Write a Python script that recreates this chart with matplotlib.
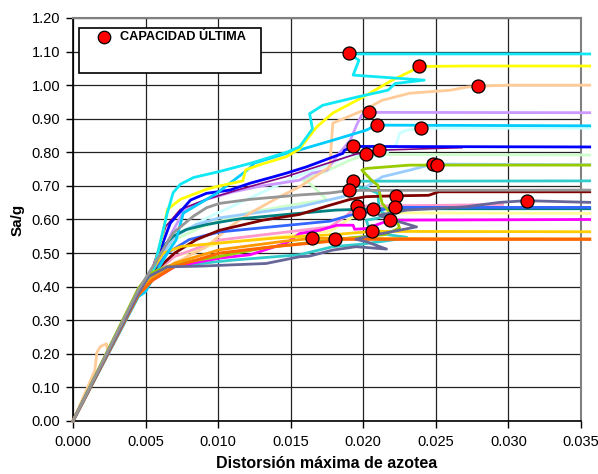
import matplotlib
matplotlib.use("Agg")
import matplotlib.pyplot as plt
from matplotlib.patches import Rectangle
from matplotlib.lines import Line2D

plt.rcParams['font.family'] = ['Liberation Sans', 'DejaVu Sans']

# ---------------- data (Sa/g vs roof drift) ----------------
cyan_x = [0, 0.0045, 0.0055, 0.0060, 0.0065, 0.0069, 0.0074, 0.0083, 0.0101, 0.0122, 0.0147, 0.0156, 0.0165, 0.0163, 0.0172, 0.0196, 0.0217, 0.0222, 0.0242, 0.0193, 0.0197, 0.0192, 0.0190, 0.0356]
cyan_y = [0, 0.385, 0.44, 0.53, 0.62, 0.68, 0.705, 0.725, 0.743, 0.767, 0.80, 0.816, 0.87, 0.915, 0.94, 0.965, 0.985, 1.005, 1.015, 1.03, 1.074, 1.089, 1.093, 1.093]

yellow_x = [0, 0.0045, 0.0056, 0.0062, 0.0065, 0.0074, 0.0092, 0.0101, 0.0117, 0.0119, 0.0128, 0.0147, 0.0156, 0.0168, 0.0179, 0.0200, 0.0220, 0.0232, 0.02386, 0.0270, 0.0356]
yellow_y = [0, 0.39, 0.46, 0.56, 0.63, 0.66, 0.69, 0.70, 0.715, 0.748, 0.762, 0.787, 0.81, 0.876, 0.917, 0.965, 1.015, 1.04, 1.0557, 1.057, 1.057]

peach_x = [0, 0.0015, 0.00165, 0.0019, 0.0023, 0.0024, 0.0045, 0.0055, 0.0070, 0.0092, 0.0108, 0.0122, 0.0142, 0.0156, 0.0177, 0.0178, 0.0179, 0.0200, 0.0213, 0.0232, 0.0260, 0.0271, 0.0279, 0.0300, 0.0356]
peach_y = [0, 0.15, 0.205, 0.222, 0.23, 0.205, 0.38, 0.44, 0.47, 0.519, 0.578, 0.619, 0.667, 0.697, 0.757, 0.826, 0.887, 0.925, 0.955, 0.976, 0.985, 0.994, 0.997, 1.0, 1.0]

lavender_x = [0, 0.0045, 0.0057, 0.0068, 0.0077, 0.0092, 0.0110, 0.0130, 0.0156, 0.0165, 0.0175, 0.01815, 0.0191, 0.0196, 0.0199, 0.02034, 0.0356]
lavender_y = [0, 0.39, 0.46, 0.56, 0.63, 0.66, 0.682, 0.70, 0.717, 0.738, 0.747, 0.787, 0.836, 0.887, 0.911, 0.919, 0.918]

dsblue_x = [0, 0.0045, 0.0050, 0.0057, 0.0065, 0.0071, 0.0076, 0.0099, 0.0120, 0.0125, 0.0147, 0.0156, 0.0179, 0.0202, 0.0209, 0.0356]
dsblue_y = [0, 0.37, 0.385, 0.44, 0.50, 0.539, 0.619, 0.678, 0.747, 0.768, 0.797, 0.807, 0.836, 0.866, 0.881, 0.879]

palecyan_x = [0, 0.0045, 0.0055, 0.0070, 0.0090, 0.0120, 0.0156, 0.0179, 0.0191, 0.0213, 0.0223, 0.0225, 0.0230, 0.02396, 0.0356]
palecyan_y = [0, 0.385, 0.45, 0.55, 0.60, 0.66, 0.732, 0.768, 0.792, 0.787, 0.826, 0.857, 0.866, 0.872, 0.872]

blue_x = [0, 0.0045, 0.0055, 0.0067, 0.0081, 0.0092, 0.0108, 0.0122, 0.0138, 0.0147, 0.0161, 0.0179, 0.0186, 0.0187, 0.0193, 0.0356]
blue_y = [0, 0.39, 0.45, 0.589, 0.658, 0.678, 0.6875, 0.708, 0.727, 0.738, 0.757, 0.786, 0.797, 0.806, 0.8175, 0.816]

purple_x = [0, 0.0045, 0.0055, 0.0064, 0.0074, 0.0092, 0.0115, 0.0147, 0.0170, 0.0195, 0.0211, 0.0268]
purple_y = [0, 0.39, 0.46, 0.58, 0.63, 0.66, 0.69, 0.728, 0.76, 0.795, 0.8065, 0.814]

palegreen_x = [0, 0.0045, 0.0055, 0.0070, 0.0090, 0.0120, 0.0160, 0.0175, 0.0163, 0.0158, 0.0175, 0.0190, 0.0202, 0.0356]
palegreen_y = [0, 0.385, 0.45, 0.54, 0.58, 0.62, 0.65, 0.658, 0.708, 0.717, 0.745, 0.775, 0.794, 0.792]

lightblue_x = [0, 0.0045, 0.0056, 0.0070, 0.0085, 0.0101, 0.0156, 0.0186, 0.0202, 0.0213, 0.0232, 0.0248, 0.0356]
lightblue_y = [0, 0.39, 0.46, 0.55, 0.585, 0.605, 0.638, 0.668, 0.697, 0.727, 0.747, 0.765, 0.763]

ygreen_x = [0, 0.0045, 0.0053, 0.0065, 0.0080, 0.0101, 0.0131, 0.0160, 0.0190, 0.0215, 0.0225, 0.0223, 0.0213, 0.0210, 0.02057, 0.0199, 0.0202, 0.0232, 0.0251, 0.0356]
ygreen_y = [0, 0.395, 0.44, 0.46, 0.475, 0.49, 0.515, 0.53, 0.545, 0.555, 0.575, 0.598, 0.648, 0.702, 0.717, 0.747, 0.752, 0.762, 0.762, 0.762]

turq_x = [0, 0.0045, 0.0050, 0.0058, 0.0070, 0.0090, 0.0110, 0.0156, 0.0179, 0.0200, 0.0223, 0.0230, 0.0218, 0.02045, 0.0202, 0.0209, 0.0216, 0.0211, 0.0210, 0.0202, 0.0198, 0.0193, 0.0356]
turq_y = [0, 0.375, 0.40, 0.44, 0.46, 0.47, 0.479, 0.495, 0.519, 0.527, 0.541, 0.547, 0.554, 0.568, 0.598, 0.603, 0.613, 0.628, 0.678, 0.693, 0.695, 0.714, 0.715]

gray_x = [0, 0.0045, 0.0055, 0.0069, 0.0083, 0.0092, 0.0101, 0.0122, 0.0156, 0.0177, 0.01905, 0.0356]
gray_y = [0, 0.39, 0.46, 0.56, 0.61, 0.635, 0.648, 0.66, 0.673, 0.679, 0.6866, 0.6875]

darkred_x = [0, 0.0045, 0.0055, 0.0070, 0.0085, 0.0101, 0.0131, 0.0156, 0.0175, 0.0191, 0.0202, 0.0223, 0.0245, 0.0252, 0.0356]
darkred_y = [0, 0.385, 0.44, 0.50, 0.54, 0.568, 0.598, 0.615, 0.64, 0.66, 0.668, 0.6706, 0.672, 0.6825, 0.6825]

slate_x = [0, 0.0045, 0.0052, 0.0065, 0.0087, 0.0133, 0.0156, 0.0163, 0.0179, 0.0195, 0.0216, 0.0202, 0.0195, 0.0202, 0.02367, 0.0225, 0.02137, 0.0211, 0.0230, 0.0271, 0.0294, 0.03124, 0.0356]
slate_y = [0, 0.38, 0.43, 0.459, 0.461, 0.469, 0.489, 0.491, 0.509, 0.519, 0.512, 0.534, 0.541, 0.549, 0.578, 0.593, 0.608, 0.613, 0.628, 0.638, 0.651, 0.656, 0.651]

pink_x = [0, 0.0045, 0.0056, 0.0070, 0.0101, 0.0177, 0.0188, 0.01955, 0.0250, 0.0296]
pink_y = [0, 0.385, 0.44, 0.49, 0.539, 0.578, 0.61, 0.640, 0.642, 0.645]

teal_x = [0, 0.0045, 0.0055, 0.0060, 0.0069, 0.0078, 0.0092, 0.0101, 0.0115, 0.0147, 0.0181, 0.0195, 0.0207, 0.0356]
teal_y = [0, 0.39, 0.45, 0.51, 0.55, 0.57, 0.585, 0.592, 0.602, 0.615, 0.628, 0.63, 0.632, 0.632]

royal_x = [0, 0.0045, 0.0055, 0.0065, 0.0080, 0.0101, 0.0177, 0.0191, 0.02217, 0.0356]
royal_y = [0, 0.385, 0.44, 0.50, 0.54, 0.563, 0.595, 0.613, 0.636, 0.636]

paleyellow_x = [0, 0.0045, 0.0056, 0.0070, 0.0101, 0.0177, 0.0190, 0.01972, 0.0356]
paleyellow_y = [0, 0.385, 0.44, 0.49, 0.53, 0.565, 0.60, 0.620, 0.618]

magenta_x = [0, 0.0045, 0.0055, 0.0070, 0.0101, 0.0122, 0.0147, 0.0156, 0.0170, 0.0182, 0.0193, 0.0194, 0.0202, 0.02182, 0.0356]
magenta_y = [0, 0.38, 0.42, 0.46, 0.485, 0.495, 0.53, 0.558, 0.568, 0.583, 0.583, 0.571, 0.573, 0.598, 0.600]

gold_x = [0, 0.0045, 0.0055, 0.0062, 0.0075, 0.0101, 0.0140, 0.0180, 0.02061, 0.0356]
gold_y = [0, 0.39, 0.45, 0.50, 0.52, 0.53, 0.545, 0.555, 0.5646, 0.5635]

orange2_x = [0, 0.0045, 0.0055, 0.0070, 0.0101, 0.0145, 0.01644, 0.0356]
orange2_y = [0, 0.38, 0.43, 0.47, 0.51, 0.535, 0.5437, 0.542]

orange1_x = [0, 0.0045, 0.0055, 0.0070, 0.0101, 0.0140, 0.0177, 0.01806, 0.0356]
orange1_y = [0, 0.375, 0.42, 0.46, 0.50, 0.52, 0.535, 0.541, 0.541]

# ultimate capacity points
cap_x = [0.01905, 0.02386, 0.0279, 0.02038, 0.02093, 0.02396, 0.0193, 0.02022, 0.02109,
         0.02478, 0.0251, 0.0193, 0.01905, 0.02226, 0.03127, 0.01955, 0.0207, 0.02217,
         0.01972, 0.02182, 0.02061, 0.01644, 0.01806]
cap_y = [1.095, 1.0557, 0.997, 0.919, 0.881, 0.872, 0.8175, 0.794, 0.8065,
         0.765, 0.762, 0.714, 0.6866, 0.6706, 0.6557, 0.640, 0.632, 0.636,
         0.620, 0.598, 0.5646, 0.5437, 0.541]

x_ticks = [0.000, 0.005, 0.010, 0.015, 0.020, 0.025, 0.030, 0.035]
y_ticks = [0.00, 0.10, 0.20, 0.30, 0.40, 0.50, 0.60, 0.70, 0.80, 0.90, 1.00, 1.10, 1.20]

series = [
    (palecyan_x, palecyan_y, '#CCFFFF', 2.0),
    (palegreen_x, palegreen_y, '#CCFFCC', 2.0),
    (paleyellow_x, paleyellow_y, '#FFFF99', 2.0),
    (pink_x, pink_y, '#FF99CC', 2.0),
    (lightblue_x, lightblue_y, '#99CCFF', 2.0),
    (lavender_x, lavender_y, '#CC99FF', 2.0),
    (peach_x, peach_y, '#FFCC99', 2.0),
    (turq_x, turq_y, '#33CCCC', 2.0),
    (teal_x, teal_y, '#008080', 2.0),
    (royal_x, royal_y, '#3366FF', 2.0),
    (darkred_x, darkred_y, '#800000', 2.0),
    (magenta_x, magenta_y, '#FF00FF', 2.0),
    (gold_x, gold_y, '#FFCC00', 2.0),
    (purple_x, purple_y, '#800080', 1.2),
    (blue_x, blue_y, '#0000FF', 2.0),
    (dsblue_x, dsblue_y, '#00CCFF', 2.0),
    (yellow_x, yellow_y, '#FFFF00', 2.0),
    (cyan_x, cyan_y, '#10E8F5', 2.0),
    (ygreen_x, ygreen_y, '#99CC00', 2.0),
    (orange2_x, orange2_y, '#FF9900', 2.0),
    (orange1_x, orange1_y, '#FF6600', 2.2),
    (slate_x, slate_y, '#666699', 2.0),
    (gray_x, gray_y, '#969696', 2.0),
]

W, H = 598, 474
fig = plt.figure(figsize=(W / 100, H / 100), dpi=100)
ax = fig.add_axes([73 / W, 1 - 421 / H, (581 - 73) / W, (421 - 18) / H])

for xs, ys, c, lw in series:
    ax.plot(xs, ys, color=c, lw=lw, clip_on=False, zorder=3, solid_joinstyle='round')

ax.scatter(cap_x, cap_y, s=88, facecolor='#FF0000', edgecolor='black', linewidths=0.9,
           zorder=5, clip_on=False)

ax.set_xlim(0, 0.035)
ax.set_ylim(0, 1.2)
ax.set_xticks(x_ticks)
ax.set_yticks(y_ticks)
ax.set_xticklabels([f"{v:.3f}" for v in x_ticks])
ax.set_yticklabels([f"{v:.2f}" for v in y_ticks])
ax.tick_params(axis='both', direction='out', length=5, width=1, color='black',
               labelsize=10.5, labelcolor='black')
ax.tick_params(axis='y', pad=4)
ax.tick_params(axis='x', pad=5)
ax.grid(True, color='#222222', lw=0.9, zorder=1)
ax.set_axisbelow(True)
for s in ['left', 'bottom']:
    ax.spines[s].set_color('black')
    ax.spines[s].set_linewidth(1.2)
for s in ['top', 'right']:
    ax.spines[s].set_color('#808080')
    ax.spines[s].set_linewidth(1.5)

ax.set_xlabel('Distorsión máxima de azotea', fontsize=11.5, fontweight='bold', labelpad=5)
ax.set_ylabel('Sa/g', fontsize=11, fontweight='bold', labelpad=5)

# legend box
fig.add_artist(Rectangle((79 / W, 1 - 73 / H), 182 / W, 45 / H, transform=fig.transFigure,
                         facecolor='white', edgecolor='black', lw=1.2, zorder=10))
fig.add_artist(Line2D([104 / W], [1 - 37 / H], transform=fig.transFigure, marker='o',
                      markersize=9, markerfacecolor='#FF0000', markeredgecolor='black',
                      markeredgewidth=0.9, linestyle='none', zorder=11))
fig.text(120 / W, 1 - 37 / H, 'CAPACIDAD ÚLTIMA', fontsize=9.2, fontweight='bold',
         va='center', ha='left', zorder=11)

fig.savefig('out.png', dpi=100)
